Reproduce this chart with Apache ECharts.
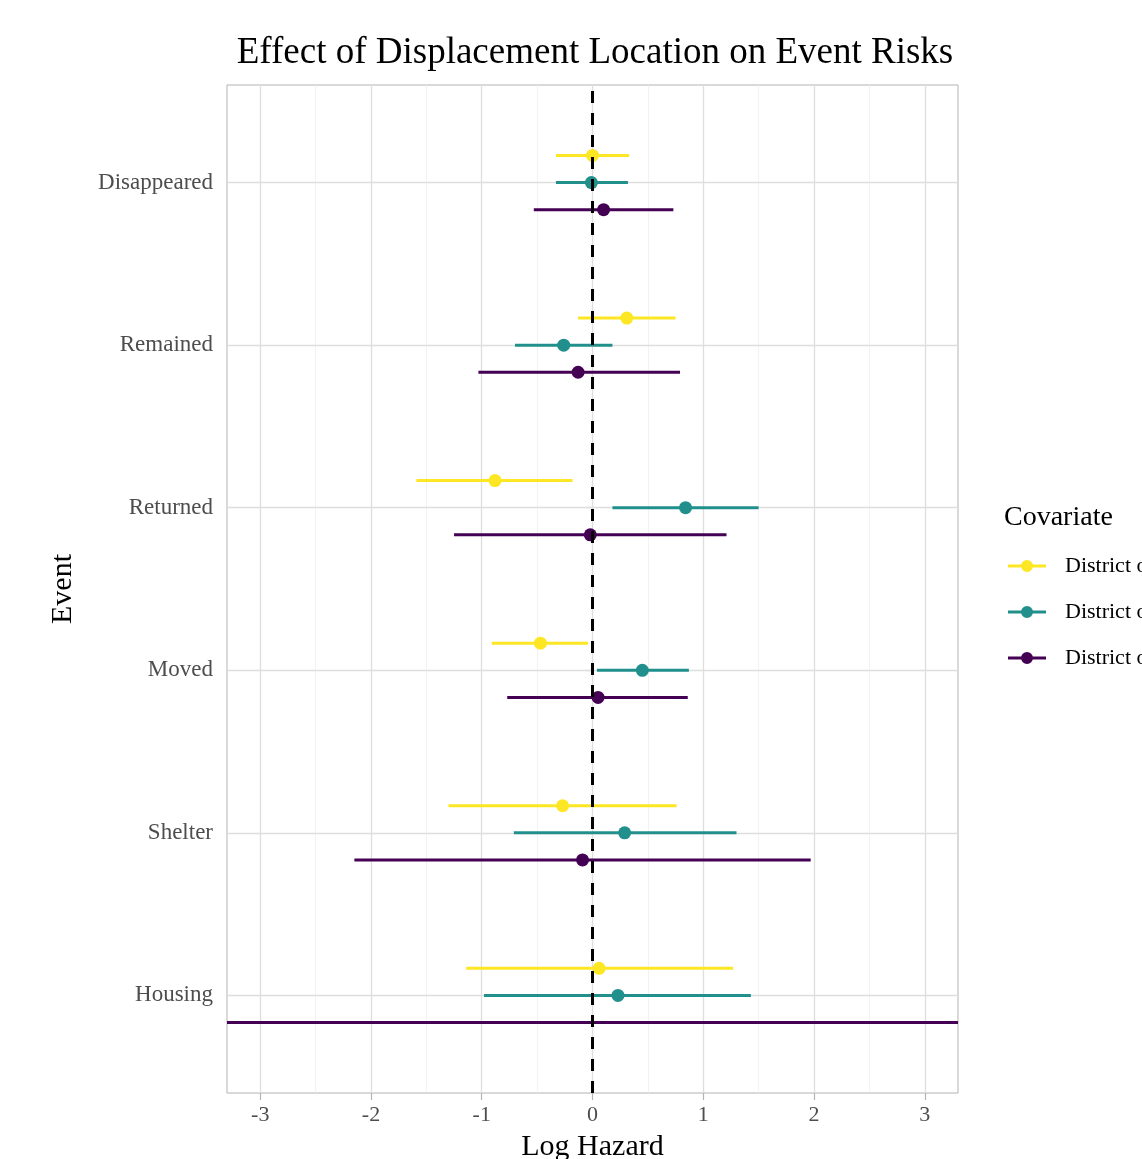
<!DOCTYPE html>
<html>
<head>
<meta charset="utf-8">
<script src="https://cdn.jsdelivr.net/npm/echarts@6/dist/echarts.min.js"></script>
<style>
html, body { margin: 0; padding: 0; background: #fff; }
#chart { width: 1142px; height: 1159px; }
</style>
</head>
<body>
<div id="chart"></div>
<script>
// events listed top to bottom
var events = ['Disappeared', 'Remained', 'Returned', 'Moved', 'Shelter', 'Housing'];
var covariates = ['District of Origin', 'District of Displacement', 'District of Residence'];
var colors = ['#fde725', '#21908c', '#440154'];
var dodge = [1 / 6, 0, -1 / 6];

var estOrigin  = [0.00, 0.31, -0.88, -0.47, -0.27, 0.06];
var lowOrigin  = [-0.33, -0.13, -1.59, -0.91, -1.30, -1.14];
var highOrigin = [0.33, 0.75, -0.18, -0.04, 0.76, 1.27];

var estDisp  = [-0.01, -0.26, 0.84, 0.45, 0.29, 0.23];
var lowDisp  = [-0.33, -0.70, 0.18, 0.04, -0.71, -0.98];
var highDisp = [0.32, 0.18, 1.50, 0.87, 1.30, 1.43];

var estRes  = [0.10, -0.13, -0.02, 0.05, -0.09, 4.5];
var lowRes  = [-0.53, -1.03, -1.25, -0.77, -2.15, -8.0];
var highRes = [0.73, 0.79, 1.21, 0.86, 1.97, 12.0];

var xTicks = [-3, -2, -1, 0, 1, 2, 3];
var xMinor = [-2.5, -1.5, -0.5, 0.5, 1.5, 2.5];

var est = [estOrigin, estDisp, estRes];
var low = [lowOrigin, lowDisp, lowRes];
var high = [highOrigin, highDisp, highRes];

function yPos(i) { return events.length - i; }
var yTicks = events.map(function (e, i) { return yPos(i); });

var chart = echarts.init(document.getElementById('chart'));
var font = 'Liberation Serif';

var series = [];

// grid lines
var gridLines = [];
xTicks.forEach(function (v) {
    gridLines.push({ xAxis: v, lineStyle: { color: '#dedede', width: 1.3, type: 'solid' } });
});
xMinor.forEach(function (v) {
    gridLines.push({ xAxis: v, lineStyle: { color: '#ececec', width: 0.7, type: 'solid' } });
});
yTicks.forEach(function (v) {
    gridLines.push({ yAxis: v, lineStyle: { color: '#dedede', width: 1.3, type: 'solid' } });
});
series.push({
    name: 'grid', type: 'scatter', data: [], z: 1, silent: true,
    markLine: { silent: true, z: 1, symbol: ['none', 'none'], label: { show: false }, animation: false, data: gridLines }
});

covariates.forEach(function (name, k) {
    var bars = events.map(function (e, i) {
        return [yPos(i) + dodge[k], low[k][i], high[k][i]];
    });
    var pts = events.map(function (e, i) {
        return [est[k][i], yPos(i) + dodge[k]];
    });
    series.push({
        name: name, type: 'custom', clip: true, z: 3,
        itemStyle: { color: colors[k] },
        encode: { x: [1, 2], y: 0 },
        data: bars,
        renderItem: (function (col) {
            return function (params, api) {
                var y = api.value(0);
                var a = api.coord([api.value(1), y]);
                var b = api.coord([api.value(2), y]);
                return {
                    type: 'line',
                    shape: { x1: a[0], y1: a[1], x2: b[0], y2: b[1] },
                    style: { stroke: col, lineWidth: 3 }
                };
            };
        })(colors[k])
    });
    series.push({
        name: name, type: 'scatter', clip: true, z: 4,
        symbolSize: 13,
        itemStyle: { color: colors[k], opacity: 1 },
        data: pts
    });
});

// dashed reference line at 0
series.push({
    name: 'ref', type: 'scatter', data: [], z: 10, silent: true,
    markLine: {
        silent: true, z: 10, symbol: ['none', 'none'], label: { show: false }, animation: false,
        data: [{ xAxis: 0, lineStyle: { color: '#000', width: 3, type: [12, 10] } }]
    }
});

var option = {
    animation: false,
    backgroundColor: '#fff',
    title: [{
        text: 'Effect of Displacement Location on Event Risks',
        left: 590, top: 30, textAlign: 'center',
        textStyle: { fontFamily: font, fontSize: 37, fontWeight: 'normal', color: '#000' }
    }, {
        text: 'Covariate', left: 999, top: 499,
        textStyle: { fontFamily: font, fontSize: 28, fontWeight: 'normal', color: '#000' }
    }],
    legend: {
        data: covariates,
        orient: 'vertical',
        left: 1003, top: 550,
        itemWidth: 38, itemHeight: 14, itemGap: 24,
        icon: 'path://M0,5.5 L38,5.5 L38,8.5 L0,8.5 Z M13,7 A6,6 0 1,1 25,7 A6,6 0 1,1 13,7 Z',
        textStyle: { fontFamily: font, fontSize: 22, color: '#000', padding: [0, 0, 0, 14] }
    },
    grid: {
        left: 227, top: 85, width: 731, height: 1008,
        outerBoundsMode: 'none',
        show: true, borderColor: '#b3b3b3', borderWidth: 1, containLabel: false
    },
    xAxis: {
        type: 'value', min: -3.3, max: 3.3,
        name: 'Log Hazard', nameLocation: 'middle', nameGap: 39,
        nameTextStyle: { fontFamily: font, fontSize: 30, color: '#000' },
        axisLine: { show: false },
        splitLine: { show: false },
        axisTick: { show: true, customValues: xTicks, length: 7, lineStyle: { color: '#b3b3b3', width: 1.2 } },
        axisLabel: {
            customValues: xTicks, margin: 11,
            fontFamily: font, fontSize: 22, color: '#4d4d4d',
            formatter: function (v) { return String(v); }
        }
    },
    yAxis: {
        type: 'value', min: 0.4, max: 6.6,
        name: 'Event', nameLocation: 'middle', nameGap: 149, nameRotate: 90,
        nameTextStyle: { fontFamily: font, fontSize: 30, color: '#000' },
        axisLine: { show: false },
        splitLine: { show: false },
        axisTick: { show: true, customValues: yTicks, length: 7, lineStyle: { color: '#b3b3b3', width: 1.2 } },
        axisLabel: {
            customValues: yTicks, margin: 14,
            fontFamily: font, fontSize: 23, color: '#4d4d4d',
            formatter: function (v) { return events[events.length - Math.round(v)]; }
        }
    },
    series: series
};

chart.setOption(option);
</script>
</body>
</html>
